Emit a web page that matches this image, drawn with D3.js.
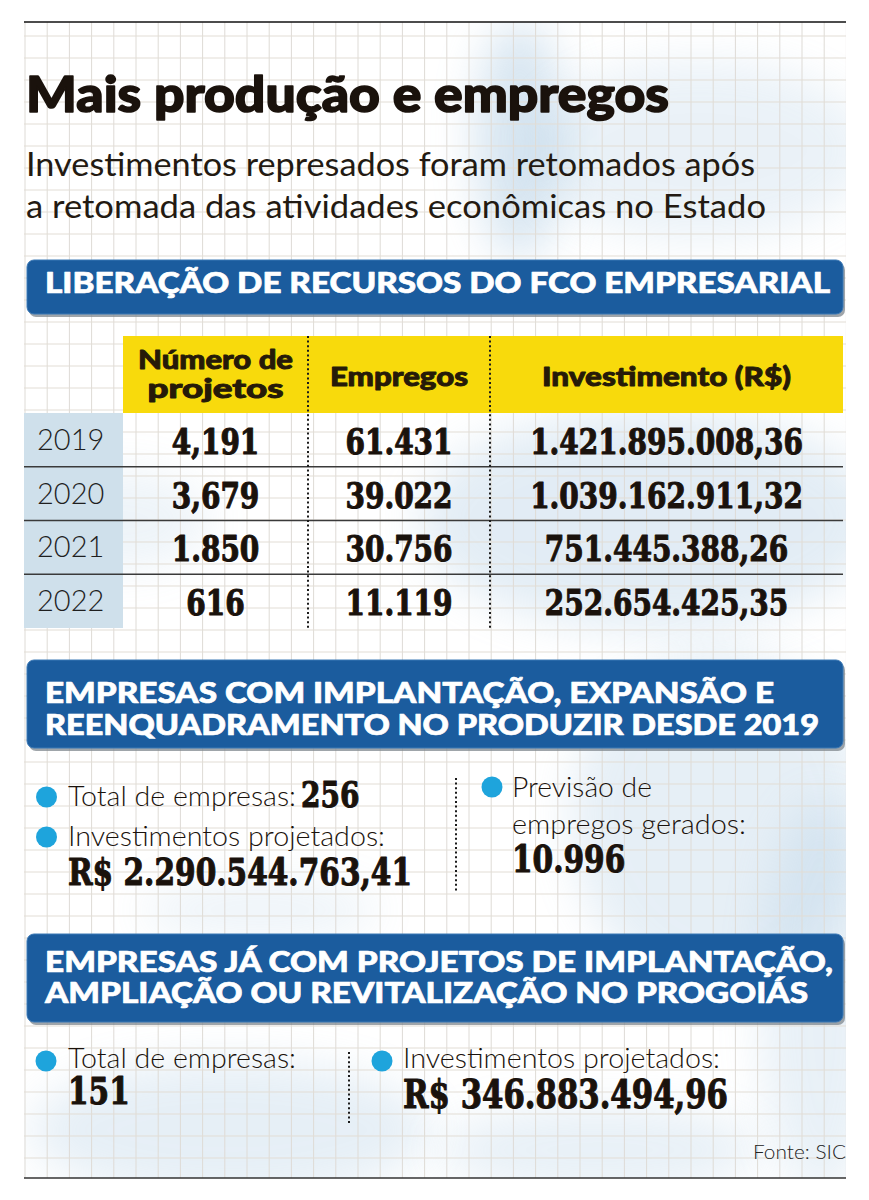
<!DOCTYPE html>
<html>
<head>
<meta charset="utf-8">
<script src="https://cdnjs.cloudflare.com/ajax/libs/d3/7.8.5/d3.min.js"></script>
<style>
  body { margin: 0; background: #fff; }
</style>
</head>
<body>
<div id="chart"></div>
<script>

// ---- data ----
var years = ["2019", "2020", "2021", "2022"];
var columns = ["Número de|projetos", "Empregos", "Investimento (R$)"];
var projetos = ["4,191", "3,679", "1.850", "616"];
var empregos = ["61.431", "39.022", "30.756", "11.119"];
var investimento = ["1.421.895.008,36", "1.039.162.911,32", "751.445.388,26", "252.654.425,35"];

var bannerTitles = [
	["LIBERAÇÃO DE RECURSOS DO FCO EMPRESARIAL"],
	["EMPRESAS COM IMPLANTAÇÃO, EXPANSÃO E", "REENQUADRAMENTO NO PRODUZIR DESDE 2019"],
	["EMPRESAS JÁ COM PROJETOS DE IMPLANTAÇÃO,", "AMPLIAÇÃO OU REVITALIZAÇÃO NO PROGOIÁS"]
];

var produzirLabels = ["Total de empresas:", "Investimentos projetados:", "Previsão de|empregos gerados:"];
var produzirValues = ["256", "R$ 2.290.544.763,41", "10.996"];
var progoiasLabels = ["Total de empresas:", "Investimentos projetados:"];
var progoiasValues = ["151", "R$ 346.883.494,96"];

var titleText = "Mais produção e empregos";
var subtitleLines = ["Investimentos represados foram retomados após", "a retomada das atividades econômicas no Estado"];
var sourceText = "Fonte: SIC";

// ---- setup ----
var svgWidth = 869;
var svgHeight = 1200;

var dark = "#1a120c";
var blue = "#1b5c9e";
var yellow = "#f8da0c";
var bulletBlue = "#1ea4dc";

var svg = d3.select("#chart")
	.append("svg")
	.attr("width", svgWidth)
	.attr("height", svgHeight)
	.style("display", "block");

var defs = svg.append("defs");
defs.append("filter")
	.attr("id", "wash")
	.attr("x", "-50%").attr("y", "-50%").attr("width", "200%").attr("height", "200%")
	.append("feGaussianBlur")
	.attr("stdDeviation", 22);
defs.append("clipPath")
	.attr("id", "paper")
	.append("rect")
	.attr("x", 24).attr("y", 22).attr("width", 822).attr("height", 1156);

svg.append("rect")
	.attr("width", svgWidth)
	.attr("height", svgHeight)
	.attr("fill", "#fff");

// background: watercolor wash + graph paper
var bg = svg.append("g").attr("clip-path", "url(#paper)");

var washes = [
	[520, 140, 45, 120, 0.35], [700, 150, 170, 90, 0.18], [650, 520, 230, 110, 0.25],
	[120, 520, 90, 50, 0.15], [720, 820, 150, 170, 0.22], [230, 1130, 200, 70, 0.22],
	[600, 1150, 160, 45, 0.2], [820, 1000, 60, 200, 0.2], [260, 910, 120, 30, 0.15]
];
bg.selectAll("ellipse.wash")
	.data(washes)
	.enter()
	.append("ellipse")
	.attr("class", "wash")
	.attr("cx", d => d[0]).attr("cy", d => d[1])
	.attr("rx", d => d[2]).attr("ry", d => d[3])
	.attr("fill", "#8fb8d8")
	.attr("opacity", d => d[4])
	.attr("filter", "url(#wash)");

bg.selectAll("line.gx")
	.data(d3.range(25, 847, 22.2))
	.enter()
	.append("line")
	.attr("class", "gx")
	.attr("x1", d => d).attr("x2", d => d)
	.attr("y1", 22).attr("y2", 1178)
	.attr("stroke", "#dedbd6")
	.attr("stroke-width", 1);

bg.selectAll("line.gy")
	.data(d3.range(36, 1178, 22))
	.enter()
	.append("line")
	.attr("class", "gy")
	.attr("y1", d => d).attr("y2", d => d)
	.attr("x1", 24).attr("x2", 846)
	.attr("stroke", "#e2ddd5")
	.attr("stroke-width", 1);

// top & bottom rules
svg.append("line")
	.attr("x1", 24).attr("x2", 846).attr("y1", 22).attr("y2", 22)
	.attr("stroke", "#111").attr("stroke-width", 1.5);
svg.append("line")
	.attr("x1", 24).attr("x2", 846).attr("y1", 1178).attr("y2", 1178)
	.attr("stroke", "#333").attr("stroke-width", 1.5);

// helpers
function sans(parent, x, y, txt, size, weight, width) {
	var t = parent.append("text")
		.attr("x", x)
		.attr("y", y)
		.attr("font-family", "Lato, 'Open Sans', sans-serif")
		.attr("font-size", size)
		.attr("font-weight", weight)
		.attr("fill", dark)
		.text(txt);
	if (width) {
		t.attr("textLength", width).attr("lengthAdjust", "spacingAndGlyphs");
	}
	// fake an extra-black weight
	if (weight >= 900) {
		t.attr("stroke", dark).attr("stroke-width", size > 40 ? 1.6 : 0.9)
			.attr("stroke-linejoin", "round");
	}
	return t;
}

function bigNum(parent, x, y, txt, size, anchor, width) {
	var t = parent.append("text")
		.attr("text-anchor", anchor)
		.attr("font-family", "'DejaVu Serif', serif")
		.attr("font-weight", "bold")
		.attr("font-size", size)
		.attr("fill", dark)
		.attr("stroke", dark)
		.attr("stroke-width", 1.1)
		.attr("stroke-linejoin", "round")
		.text(txt);
	if (width) {
		t.attr("x", x).attr("y", y)
			.attr("textLength", width).attr("lengthAdjust", "spacingAndGlyphs");
	} else {
		t.attr("transform", `translate(${x},${y}) scale(0.8,1)`);
	}
	return t;
}

function bullet(parent, x, y) {
	parent.append("circle")
		.attr("cx", x).attr("cy", y).attr("r", 10.5)
		.attr("fill", bulletBlue);
}

function banner(y, h, lines, baselines, widths) {
	var g = svg.append("g");
	g.append("rect")
		.attr("x", 29).attr("y", y + 3)
		.attr("width", 816).attr("height", h)
		.attr("rx", 7)
		.attr("fill", "#7f878e")
		.attr("opacity", 0.75);
	g.append("rect")
		.attr("x", 27).attr("y", y)
		.attr("width", 816).attr("height", h)
		.attr("rx", 7)
		.attr("fill", blue)
		.attr("stroke", "#3b78b5")
		.attr("stroke-width", 1);
	lines.forEach(function(line, i) {
		sans(g, 45, baselines[i], line, 28, 900, widths[i])
			.attr("fill", "#fff")
			.attr("stroke", "#fff")
			.attr("stroke-width", 0.7);
	});
}

// ---- title ----
sans(svg, 26, 112, titleText, 50, 900, 643);
sans(svg, 26, 176, subtitleLines[0], 33, 400, 729).attr("fill", "#231a12");
sans(svg, 26, 218, subtitleLines[1], 33, 400, 740).attr("fill", "#231a12");

// ---- section 1: table ----
banner(260, 54, bannerTitles[0], [293], [785]);

var colEdges = [123, 308, 490, 843];
var colCenter = d3.scaleOrdinal()
	.domain(columns)
	.range(columns.map((c, i) => (colEdges[i] + colEdges[i + 1]) / 2));

var rowScale = d3.scaleBand()
	.domain(years)
	.range([413, 628]);

var table = svg.append("g");

// yellow header + year column
table.append("rect")
	.attr("x", colEdges[0]).attr("y", 336)
	.attr("width", colEdges[3] - colEdges[0]).attr("height", 77)
	.attr("fill", yellow);
table.append("rect")
	.attr("x", 24).attr("y", rowScale.range()[0])
	.attr("width", colEdges[0] - 24).attr("height", rowScale.range()[1] - rowScale.range()[0])
	.attr("fill", "#cfe0eb");

// header labels
var headerWidths = [[155, 136], [138], [249]];
columns.forEach(function(c, i) {
	var parts = c.split("|");
	var base = parts.length > 1 ? [369, 398] : [386];
	parts.forEach(function(p, j) {
		sans(table, colCenter(c), base[j], p, 26, 900, headerWidths[i][j])
			.attr("text-anchor", "middle")
			.attr("fill", "#261a08")
			.attr("stroke", "#261a08");
	});
});

// row separators
table.selectAll("line.row")
	.data(years.slice(1))
	.enter()
	.append("line")
	.attr("class", "row")
	.attr("x1", 24).attr("x2", colEdges[3])
	.attr("y1", d => rowScale(d)).attr("y2", d => rowScale(d))
	.attr("stroke", "#3a3a3a")
	.attr("stroke-width", 1.5);

// dotted column dividers
table.selectAll("line.col")
	.data([colEdges[1], colEdges[2]])
	.enter()
	.append("line")
	.attr("class", "col")
	.attr("x1", d => d).attr("x2", d => d)
	.attr("y1", 336).attr("y2", 630)
	.attr("stroke", "#1a1a1a")
	.attr("stroke-width", 2)
	.attr("stroke-dasharray", "2,2.6");

// year labels
years.forEach(function(y) {
	sans(table, 37, rowScale(y) + rowScale.bandwidth() / 2 + 10, y, 29, 300)
		.attr("fill", "#1f1f1f");
});

// values
var tableValues = [projetos, empregos, investimento];
tableValues.forEach(function(series, i) {
	series.forEach(function(v, j) {
		var cy = rowScale(years[j]) + rowScale.bandwidth() / 2;
		bigNum(table, colCenter(columns[i]), cy + 14, v, 35, "middle");
	});
});

// ---- section 2: Produzir ----
banner(660, 88, bannerTitles[1], [703, 735], [729, 774]);

var s2 = svg.append("g");
bullet(s2, 46.5, 797);
sans(s2, 68, 806, produzirLabels[0], 28, 300, 228);
bigNum(s2, 301, 807, produzirValues[0], 35, "start");

bullet(s2, 46.5, 837);
sans(s2, 68, 846, produzirLabels[1], 28, 300, 317);
bigNum(s2, 68, 885, produzirValues[1], 37, "start", 344);

s2.append("line")
	.attr("x1", 456).attr("x2", 456).attr("y1", 778).attr("y2", 893)
	.attr("stroke", "#1a1a1a").attr("stroke-width", 2).attr("stroke-dasharray", "2,2.6");

var prevParts = produzirLabels[2].split("|");
bullet(s2, 492, 787);
sans(s2, 512, 797, prevParts[0], 28, 300, 140);
sans(s2, 512, 834, prevParts[1], 28, 300, 234);
bigNum(s2, 512, 872, produzirValues[2], 37, "start");

// ---- section 3: ProGoiás ----
banner(934, 88, bannerTitles[2], [972, 1003], [788, 763]);

var s3 = svg.append("g");
bullet(s3, 46, 1061);
sans(s3, 68, 1068, progoiasLabels[0], 28, 300, 228);
bigNum(s3, 68, 1104, progoiasValues[0], 37, "start");

s3.append("line")
	.attr("x1", 349).attr("x2", 349).attr("y1", 1052).attr("y2", 1123)
	.attr("stroke", "#1a1a1a").attr("stroke-width", 2).attr("stroke-dasharray", "2,2.6");

bullet(s3, 382, 1061);
sans(s3, 403, 1068, progoiasLabels[1], 28, 300, 317);
bigNum(s3, 403, 1108, progoiasValues[1], 39, "start", 325);

// source
sans(svg, 846, 1159, sourceText, 19, 300, 93)
	.attr("text-anchor", "end")
	.attr("fill", "#222");

</script>
</body>
</html>
